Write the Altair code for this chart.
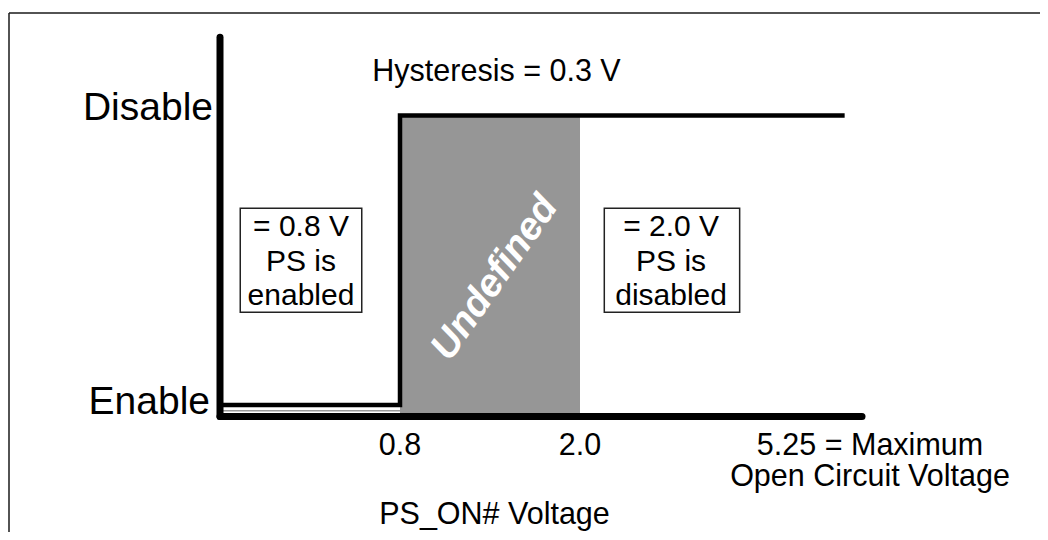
import altair as alt
import pandas as pd

# ---- data ----
# signal trace: level 0 = Enable, level 1 = Disable, x in volts (schematic)
trace_v = [0.0, 0.8, 0.8, 5.05]
trace_level = [0, 0, 1, 1]

# undefined (hysteresis) region
undef_v = [0.8]
undef_v2 = [2.0]

# axis extents
axis_v_max = 5.25
axis_level_min = -0.04
axis_level_max = 1.27

# tick labels
tick_values = [0.8, 2.0]
tick_labels = ["0.8", "2.0"]
max_value = [5.25]
max_label_1 = ["5.25 = Maximum"]
max_label_2 = ["Open Circuit Voltage"]
x_title = ["PS_ON# Voltage"]
title_v = [1.43]

# level labels
level_values = [1, 0]
level_labels = ["Disable", "Enable"]

# annotations
hyst_text = ["Hysteresis = 0.3 V"]
hyst_v = [1.43]
undef_text = ["Undefined"]
undef_cv = [1.43]
undef_cl = [0.44]

box_v = [0.09, 2.28]
box_v2 = [0.63, 3.84]
box_l = [0.32, 0.32]
box_l2 = [0.68, 0.68]
box_cv = [0.36, 3.05]
box_cl = [0.5, 0.5]
box_text = ["= 0.8 V\nPS is\nenabled", "= 2.0 V\nPS is\ndisabled"]

FONT = "Liberation Sans"

xs = alt.Scale(domain=[0, 0.8, 2.0, 5.25], range=[212, 392, 572, 854], nice=False, zero=False)
ys = alt.Scale(domain=[0, 1], range=[397, 107.5], nice=False, zero=False)

def X(f):
    return alt.X(f, type="quantitative", scale=xs, axis=None)

def Y(f):
    return alt.Y(f, type="quantitative", scale=ys, axis=None)

trace_df = pd.DataFrame({"v": trace_v, "lvl": trace_level, "o": list(range(len(trace_v)))})
undef_df = pd.DataFrame({"v": undef_v, "v2": undef_v2, "l": [axis_level_min], "l2": [1]})
axes_df = pd.DataFrame({"v": [0.0], "v2": [axis_v_max], "l": [axis_level_min], "l2": [axis_level_max]})
ticks_df = pd.DataFrame({"v": tick_values, "t": tick_labels, "l": [axis_level_min] * len(tick_values)})
max_df = pd.DataFrame({"v": max_value, "t1": max_label_1, "t2": max_label_2, "l": [axis_level_min]})
title_df = pd.DataFrame({"v": title_v, "t": x_title, "l": [axis_level_min]})
level_df = pd.DataFrame({"v": [0.0, 0.0], "l": level_values, "t": level_labels})
hyst_df = pd.DataFrame({"v": hyst_v, "l": [1], "t": hyst_text})
undef_t_df = pd.DataFrame({"v": undef_cv, "l": undef_cl, "t": undef_text})
box_df = pd.DataFrame({"v": box_v, "v2": box_v2, "l": box_l, "l2": box_l2,
                       "cv": box_cv, "cl": box_cl, "t": box_text})

# frame lines (decorative page border)
frame_top = alt.Chart(pd.DataFrame({"a": [0]})).mark_rule(color="#1a1a1a", strokeWidth=1.5).encode(
    x=alt.value(1), x2=alt.value(1040), y=alt.value(5))
frame_left = alt.Chart(pd.DataFrame({"a": [0]})).mark_rule(color="#1a1a1a", strokeWidth=1.5).encode(
    x=alt.value(1), y=alt.value(5), y2=alt.value(532))

undef_rect = alt.Chart(undef_df).mark_rect(color="#969696").encode(
    x=X("v"), x2="v2", y=Y("l"), y2="l2")

# faint double line under the enable trace
ghost = alt.Chart(pd.DataFrame({"v": [0.0], "v2": [0.8], "l": [-0.02]})).mark_rule(
    color="#9a9a9a", strokeWidth=1.5).encode(x=X("v"), x2="v2", y=Y("l"))

y_axis = alt.Chart(axes_df).mark_rule(color="black", strokeWidth=7, strokeCap="round").encode(
    x=X("v"), y=Y("l"), y2="l2")
x_axis = alt.Chart(axes_df).mark_rule(color="black", strokeWidth=7, strokeCap="round").encode(
    x=X("v"), x2="v2", y=Y("l"))

trace = alt.Chart(trace_df).mark_line(color="black", strokeWidth=4.5, strokeJoin="miter",
                                       strokeCap="butt").encode(
    x=X("v"), y=Y("lvl"), order="o:Q")

boxes = alt.Chart(box_df).mark_rect(fill="white", stroke="#222222", strokeWidth=1.5).encode(
    x=X("v"), x2="v2", y=Y("l"), y2="l2")
box_txt = alt.Chart(box_df).mark_text(font=FONT, fontSize=30, lineBreak="\n", lineHeight=34.5,
                                      align="center", baseline="middle", dy=-33,
                                      color="black").encode(
    x=X("cv"), y=Y("cl"), text="t:N")

disable_lbl = alt.Chart(level_df).transform_filter("datum.l == 1").mark_text(
    font=FONT, fontSize=39, align="right", baseline="middle", dx=-7, dy=-8, color="black").encode(
    x=X("v"), y=Y("l"), text="t:N")
enable_lbl = alt.Chart(level_df).transform_filter("datum.l == 0").mark_text(
    font=FONT, fontSize=39, align="right", baseline="middle", dx=-10, dy=-3, color="black").encode(
    x=X("v"), y=Y("l"), text="t:N")

hyst = alt.Chart(hyst_df).mark_text(font=FONT, fontSize=30.5, align="center", baseline="middle",
                                    dy=-44, dx=2, color="black").encode(x=X("v"), y=Y("l"), text="t:N")

undef_lbl = alt.Chart(undef_t_df).mark_text(font=FONT, fontSize=39, fontWeight="bold", fontStyle="italic",
                                            angle=305, align="center", baseline="middle",
                                            color="white").encode(x=X("v"), y=Y("l"), text="t:N")

ticks = alt.Chart(ticks_df).mark_text(font=FONT, fontSize=30.5, align="center", baseline="middle",
                                      dy=29, color="black").encode(x=X("v"), y=Y("l"), text="t:N")
max1 = alt.Chart(max_df).mark_text(font=FONT, fontSize=30.5, align="center", baseline="middle",
                                   dy=29, dx=8, color="black").encode(x=X("v"), y=Y("l"), text="t1:N")
max2 = alt.Chart(max_df).mark_text(font=FONT, fontSize=30.5, align="center", baseline="middle",
                                   dy=60, dx=8, color="black").encode(x=X("v"), y=Y("l"), text="t2:N")
title = alt.Chart(title_df).mark_text(font=FONT, fontSize=30.5, align="center", baseline="middle",
                                      dy=98, color="black").encode(x=X("v"), y=Y("l"), text="t:N")

chart = alt.layer(
    frame_top, frame_left, undef_rect, ghost, trace, y_axis, x_axis,
    boxes, box_txt, disable_lbl, enable_lbl, hyst, undef_lbl, ticks, max1, max2, title
).properties(
    width=1032, height=524, padding=0, background="white",
    autosize=alt.AutoSizeParams(type="none")
).configure_view(strokeWidth=0)

chart.save("out.html", embed_options={"renderer": "svg", "actions": False})
